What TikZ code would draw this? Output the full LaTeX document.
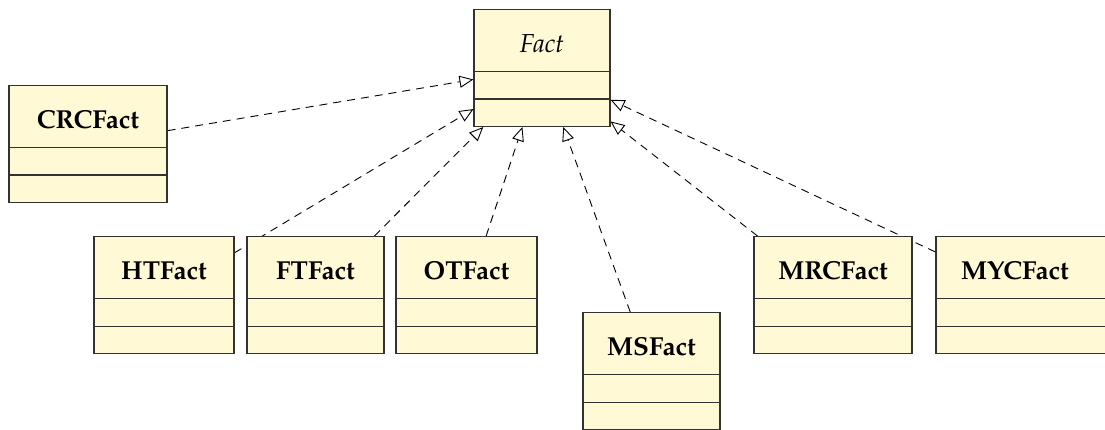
\documentclass[tikz,border=0pt]{standalone}
\usepackage{fontspec}
\setmainfont{texgyrepagella}[
  Extension=.otf,
  UprightFont=*-regular,
  BoldFont=*-bold,
  ItalicFont=*-italic,
  BoldItalicFont=*-bolditalic]
\usetikzlibrary{shapes.multipart,arrows.meta}
\definecolor{classfill}{RGB}{255,249,214}
\definecolor{classline}{RGB}{50,50,50}
\pgfdeclarelayer{edges}
\pgfsetlayers{edges,main}
\tikzset{
  umlclass/.style={
    rectangle split, rectangle split parts=3,
    draw=classline, line width=1.1pt, fill=classfill,
    inner xsep=6pt, inner ysep=0pt,
    rectangle split empty part height=26.3pt,
    rectangle split empty part depth=0pt,
    font=\fontsize{26}{31}\selectfont\bfseries,
    anchor=north},
  realize/.style={
    draw=black, line width=0.9pt, dash pattern=on 8pt off 6pt,
    -{Triangle[open, length=14pt, width=12pt, line width=0.9pt]}}
}
\newcommand{\hdr}{\rule[-19pt]{0pt}{61pt}}
\begin{document}
\begin{tikzpicture}[x=1pt,y=1pt]
  \useasboundingbox (0,0) rectangle (1105,-430);
  \clip (0,0) rectangle (1105,-430);

  % the interface and its implementing classes
  \node[umlclass, minimum width=136pt] (fact) at (542,-9)
    {\hdr\mdseries\itshape Fact};
  \node[umlclass, minimum width=158pt] (crc) at (88,-85) {\hdr CRCFact};
  \node[umlclass, minimum width=140pt] (ht) at (164,-236) {\hdr HTFact};
  \node[umlclass, minimum width=137pt] (ft) at (315.5,-236) {\hdr FTFact};
  \node[umlclass, minimum width=141pt] (ot) at (466.5,-236) {\hdr OTFact};
  \node[umlclass, minimum width=137pt] (ms) at (651.5,-312) {\hdr MSFact};
  \node[umlclass, minimum width=158pt] (mrc) at (833,-236) {\hdr MRCFact};
  \node[umlclass, minimum width=184pt] (myc) at (1028,-236)
    {\hdr\hspace*{-26pt}MYCFact};

  % realization arrows, kept behind the class boxes
  \begin{pgfonlayer}{edges}
    \draw[realize] (crc) -- (fact);
    \draw[realize] (ht)  -- (fact);
    \draw[realize] (ft)  -- (fact);
    \draw[realize] (ot)  -- (fact);
    \draw[realize] (ms)  -- (fact);
    \draw[realize] (mrc) -- (fact);
    \draw[realize] (myc) -- (fact);
  \end{pgfonlayer}
\end{tikzpicture}
\end{document}
